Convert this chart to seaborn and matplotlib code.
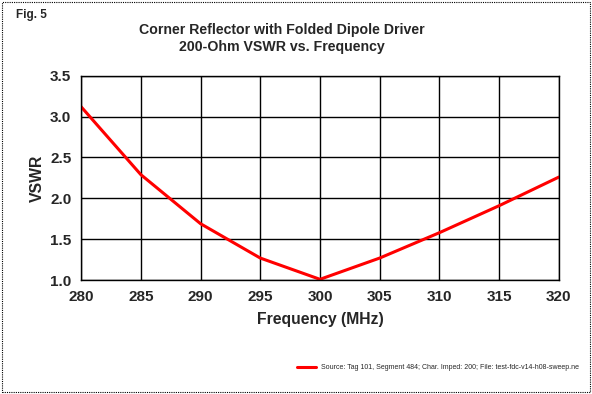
import matplotlib
matplotlib.use("Agg")
import matplotlib.pyplot as plt
import seaborn as sns
import pandas as pd
from matplotlib.patches import Rectangle

# valores
freq_mhz = [280, 285, 290, 295, 300, 305, 310, 315, 320]
vswr = [3.12, 2.29, 1.69, 1.27, 1.01, 1.27, 1.58, 1.91, 2.26]
x_ticks = [280, 285, 290, 295, 300, 305, 310, 315, 320]
y_ticks = [1.0, 1.5, 2.0, 2.5, 3.0, 3.5]
legenda = "Source: Tag 101, Segment 484; Char. Imped: 200; File: test-fdc-v14-h08-sweep.ne"

sns.set_style("white")
plt.rcParams['font.family'] = ['Liberation Sans', 'DejaVu Sans']

df = pd.DataFrame({"freq": freq_mhz, "vswr": vswr})

fig = plt.figure(figsize=(5.92, 3.94), dpi=100)
ax = fig.add_axes([0.137, 0.289, 0.807, 0.519])

sns.lineplot(data=df, x="freq", y="vswr", color="#ff0000", linewidth=2.2,
             ax=ax, legend=False)

ax.set_xlim(280, 320)
ax.set_ylim(1.0, 3.5)
ax.set_xticks(x_ticks)
ax.set_yticks(y_ticks)
ax.set_yticklabels([f"{v:.1f}" for v in y_ticks])
ax.grid(True, color="black", linewidth=1)
for s in ax.spines.values():
    s.set_color("black")
    s.set_linewidth(1)
ax.tick_params(axis="both", direction="out", length=4, color="black",
               labelsize=11, pad=3)
for lbl in ax.get_xticklabels() + ax.get_yticklabels():
    lbl.set_fontweight("bold")

ax.set_xlabel("Frequency (MHz)", fontsize=11.3, fontweight="bold", labelpad=6)
ax.set_ylabel("VSWR", fontsize=11.3, fontweight="bold", labelpad=4)

fig.text(0.476, 0.923, "Corner Reflector with Folded Dipole Driver",
         ha="center", va="center", fontsize=10.2, fontweight="bold")
fig.text(0.476, 0.880, "200-Ohm VSWR vs. Frequency",
         ha="center", va="center", fontsize=10.2, fontweight="bold")
fig.text(0.027, 0.962, "Fig. 5", ha="left", va="center", fontsize=8.5,
         fontweight="bold")

# legenda
fig.lines.append(plt.Line2D([0.502, 0.533], [0.068, 0.068], color="#ff0000",
                            linewidth=2.2, transform=fig.transFigure))
fig.text(0.543, 0.068, legenda, ha="left", va="center", fontsize=5.0)

# borda pontilhada
fig.patches.append(Rectangle((0.003, 0.004), 0.994, 0.992, fill=False,
                             edgecolor="black", linestyle=(0, (1, 1)),
                             linewidth=0.8, transform=fig.transFigure))

fig.savefig("out.png", dpi=100)
